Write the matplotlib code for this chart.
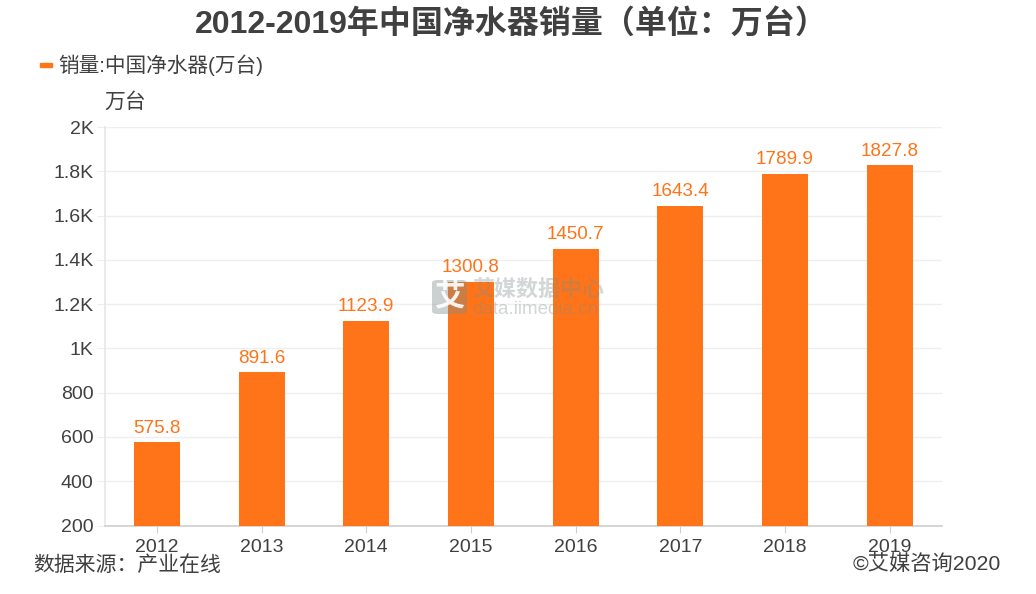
import matplotlib
matplotlib.use("Agg")
import matplotlib.pyplot as plt
from matplotlib.patches import FancyBboxPatch

FONT = ['Liberation Sans', 'Noto Sans CJK SC', 'DejaVu Sans']
plt.rcParams['font.family'] = FONT

years = ['2012', '2013', '2014', '2015', '2016', '2017', '2018', '2019']
sales = [575.8, 891.6, 1123.9, 1300.8, 1450.7, 1643.4, 1789.9, 1827.8]
yticks = [200, 400, 600, 800, 1000, 1200, 1400, 1600, 1800, 2000]
ylabels = ['200', '400', '600', '800', '1K', '1.2K', '1.4K', '1.6K', '1.8K', '2K']

ORANGE = '#FF7418'
TEXT = '#404040'
W, H = 1036, 594

fig = plt.figure(figsize=(W / 100, H / 100), dpi=100, facecolor='white')
L, R, T, B = 104.5, 942, 127, 525.5
ax = fig.add_axes([L / W, 1 - B / H, (R - L) / W, (B - T) / H])

x = list(range(len(years)))
ax.bar(x, sales, width=0.44, color=ORANGE, zorder=3)
for xi, v in zip(x, sales):
    ax.annotate(f'{v}', (xi, v), xytext=(0, 4), textcoords='offset points',
                ha='center', va='bottom', color=ORANGE, fontsize=13.6, zorder=4)

ax.set_xlim(-0.5, len(years) - 0.5)
ax.set_ylim(200, 2000)
ax.set_xticks(x, years)
ax.set_yticks(yticks, ylabels)
ax.grid(axis='y', color='#EFEFEF', lw=1, zorder=0)
ax.set_axisbelow(True)
for s in ('top', 'right'):
    ax.spines[s].set_visible(False)
ax.spines['left'].set_color('#E6E6E6')
ax.spines['left'].set_linewidth(1.2)
ax.spines['bottom'].set_color('#CFCFCF')
ax.spines['bottom'].set_linewidth(1.2)
ax.tick_params(axis='x', length=5, color='#CFCFCF', width=0.8, labelsize=14, labelcolor=TEXT, pad=4.5)
ax.tick_params(axis='y', length=6, color='#EFEFEF', width=0.8, labelsize=14, labelcolor=TEXT, pad=2)


def px(xp, yp):
    return xp / W, 1 - yp / H


fig.text(*px(511.5, 24), '2012-2019年中国净水器销量（单位：万台）', ha='center', va='center',
         fontsize=23, fontweight='bold', color=TEXT)
fig.text(*px(58, 65.5), '销量:中国净水器(万台)', ha='left', va='center', fontsize=14.9, color=TEXT)
fig.patches.append(plt.Rectangle(px(40, 67), 12 / W, 4 / H, transform=fig.transFigure,
                                 color=ORANGE, figure=fig))
fig.text(*px(104, 102), '万台', ha='left', va='center', fontsize=15, color=TEXT)
fig.text(*px(33, 565), '数据来源：产业在线', ha='left', va='center', fontsize=15, color=TEXT)
fig.text(*px(1001, 564), '©艾媒咨询2020', ha='right', va='center', fontsize=15.3, color=TEXT)

# watermark
fig.add_artist(FancyBboxPatch(px(432, 314), 35 / W, 34 / H, boxstyle='round,pad=0,rounding_size=0.005',
                              transform=fig.transFigure, fc='#7F8C8C', ec='none', alpha=0.4, zorder=10))
fig.text(*px(449.5, 297), '艾', ha='center', va='center', fontsize=22, fontweight='bold',
         color='white', alpha=0.9, zorder=11)
fig.text(*px(472, 290), '艾媒数据中心', ha='left', va='center', fontsize=15.8, fontweight='bold',
         color='#7F8C8C', alpha=0.35, zorder=11)
fig.text(*px(472, 309), 'data.iimedia.cn', ha='left', va='center', fontsize=13.5,
         color='#7F8C8C', alpha=0.35, zorder=11)

fig.savefig('out.png', dpi=100, facecolor='white')
